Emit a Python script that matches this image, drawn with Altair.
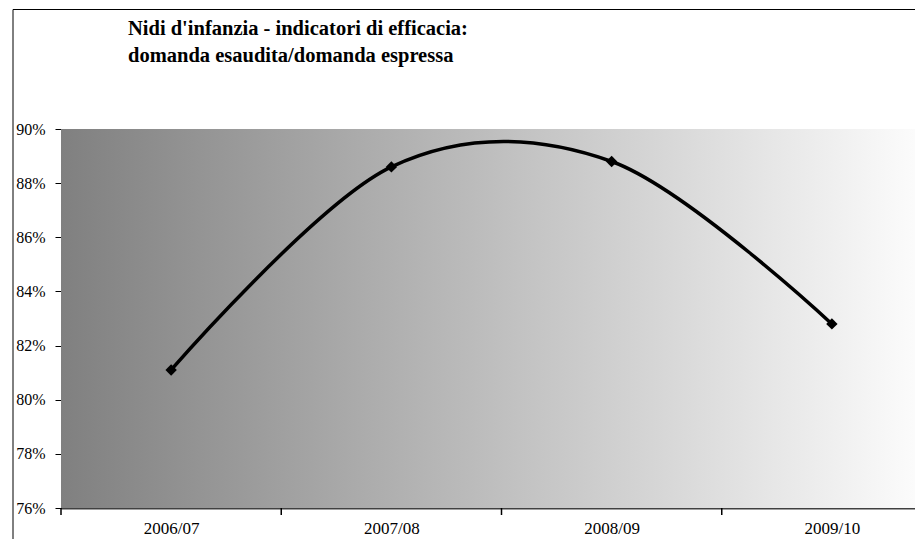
import altair as alt
import pandas as pd

categories = ["2006/07", "2007/08", "2008/09", "2009/10"]
values = [0.811, 0.886, 0.888, 0.828]
y_ticks = [0.76, 0.78, 0.80, 0.82, 0.84, 0.86, 0.88, 0.90]
title_lines = ["Nidi d'infanzia - indicatori di efficacia:",
               "domanda esaudita/domanda espressa"]

df = pd.DataFrame({"anno": categories, "valore": values})
bg = pd.DataFrame({"k": [0]})
tdf = pd.DataFrame({"t": title_lines, "i": [0, 1]})

PW = 881  # full plot width (its right part lies outside the window, as in the reference)
PH = 379
FONT = "'Liberation Serif', 'Times New Roman', Times, serif"

xscale = alt.Scale(type="point", padding=0.5, range=[0, PW])
yscale = alt.Scale(domain=[0.76, 0.90], nice=False, zero=False)

gradient = alt.LinearGradient(
    gradient="linear", x1=0, x2=1, y1=0, y2=0,
    stops=[alt.GradientStop(offset=0, color="#808080"),
           alt.GradientStop(offset=1, color="#ffffff")],
)

background = alt.Chart(bg).mark_rect(fill=gradient, stroke=None).encode(
    x=alt.value(0), x2=alt.value(PW), y=alt.value(0), y2=alt.value(PH)
)

base = alt.Chart(df)

line = base.mark_line(interpolate="cardinal", color="black", strokeWidth=3.5).encode(
    x=alt.X("anno:N", scale=xscale, sort=categories,
            axis=alt.Axis(title=None, ticks=False, labelAngle=0, labelPadding=12,
                          labelFontSize=17,
                          domainColor="#404040", domainWidth=2, grid=False)),
    y=alt.Y("valore:Q", scale=yscale,
            axis=alt.Axis(title=None, values=y_ticks, format=".0%", tickSize=6,
                          tickColor="black", labelPadding=10, domainColor="black",
                          grid=True, gridColor="black", gridOpacity=0.85)),
)

points = base.mark_point(shape="diamond", filled=True, size=130, color="black", opacity=1).encode(
    x=alt.X("anno:N", scale=xscale, sort=categories),
    y=alt.Y("valore:Q", scale=yscale),
)

xticks = base.mark_rule(color="black", strokeWidth=1.5, xOffset=-PW / 8).encode(
    x=alt.X("anno:N", scale=xscale, sort=categories),
    y=alt.value(PH), y2=alt.value(PH + 7),
)

title = alt.Chart(tdf).mark_text(
    font=FONT, fontSize=20.5, fontWeight="bold", align="left", baseline="alphabetic", color="black"
).encode(
    x=alt.value(67),
    y=alt.Y("i:O", scale=alt.Scale(type="point", range=[-94, -67.5], padding=0), axis=None),
    text="t:N",
)

border_left = alt.Chart(bg).mark_rule(color="black", strokeWidth=1).encode(
    x=alt.value(-48), y=alt.value(-119.5), y2=alt.value(PH + 60)
)
border_top = alt.Chart(bg).mark_rule(color="black", strokeWidth=1).encode(
    x=alt.value(-48), x2=alt.value(PW + 20), y=alt.value(-119.5)
)

chart = alt.layer(background, line, points, xticks, title, border_left, border_top).resolve_scale(
    y="independent"
).properties(
    width=854, height=PH,
    autosize=alt.AutoSizeParams(type="none"),
    padding={"left": 53, "top": 121, "right": 0, "bottom": 31},
).configure_view(stroke=None).configure_axis(
    labelFont=FONT, labelFontSize=16, labelColor="black"
)

chart.save("out.html", embed_options={"renderer": "svg", "actions": False})
